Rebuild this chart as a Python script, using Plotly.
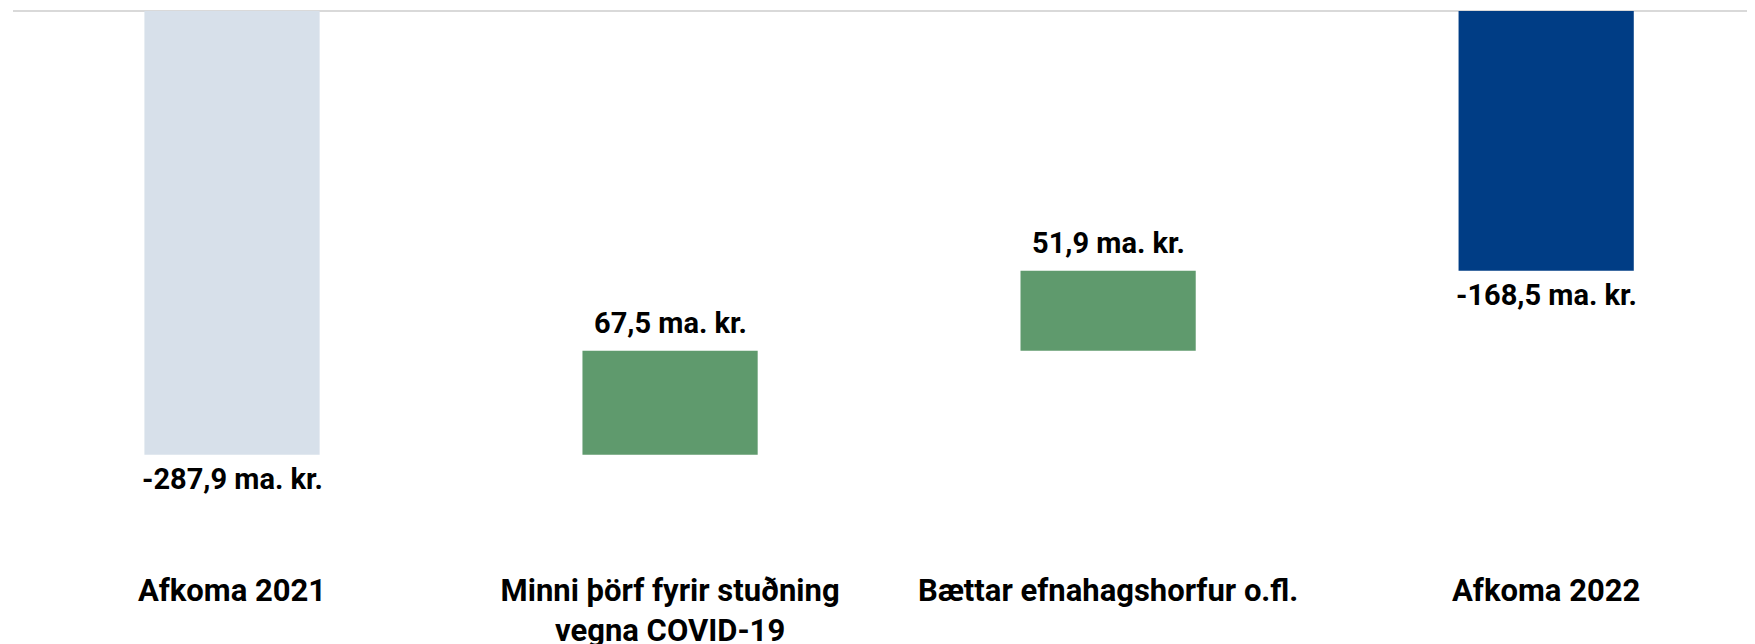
import plotly.graph_objects as go

categories = ["Afkoma 2021", "Minni þörf fyrir stuðning<br>vegna COVID-19",
              "Bættar efnahagshorfur o.fl.", "Afkoma 2022"]
values = [-287.9, 67.5, 51.9, -168.5]
measures = ["absolute", "relative", "relative", "total"]
value_labels = ["-287,9 ma. kr.", "67,5 ma. kr.", "51,9 ma. kr.", "-168,5 ma. kr."]
colors = ["#D7E0EA", "#5F9A6D", "#5F9A6D", "#003D85"]

# compute bases for the waterfall
bases, ys, ends = [], [], []
running = 0.0
for m, v in zip(measures, values):
    if m == "absolute":
        bases.append(0.0); ys.append(v); running = v
    elif m == "relative":
        bases.append(running); ys.append(v); running += v
    else:
        bases.append(0.0); ys.append(v); running = v
    ends.append(bases[-1] + ys[-1])

FONT = "Roboto"

fig = go.Figure()
fig.add_trace(go.Bar(
    x=categories, y=ys, base=bases, width=0.40,
    marker=dict(color=colors, line=dict(width=0)),
    hoverinfo="skip",
))

for cat, end, v, lab in zip(categories, ends, values, value_labels):
    shift = 28 if v > 0 else -24
    fig.add_annotation(x=cat, y=end, text=lab, showarrow=False,
                       yanchor="middle", yshift=shift,
                       font=dict(family=FONT, size=29, color="#000000", weight="bold"))

fig.update_layout(
    width=1755, height=644,
    margin=dict(l=5, r=0, t=3, b=83),
    paper_bgcolor="white", plot_bgcolor="white",
    showlegend=False,
    font=dict(family=FONT, color="#000000"),
)
fig.update_xaxes(range=[-0.5, 3.495], showgrid=False, showline=False, ticks="",
                 tickfont=dict(family=FONT, size=31, color="#000000", weight="bold"))
fig.update_yaxes(range=[-362, 0], showgrid=False, showticklabels=False, ticks="",
                 zeroline=True, zerolinecolor="#D9D9D9", zerolinewidth=2, showline=False)

fig.write_html("out.html")
